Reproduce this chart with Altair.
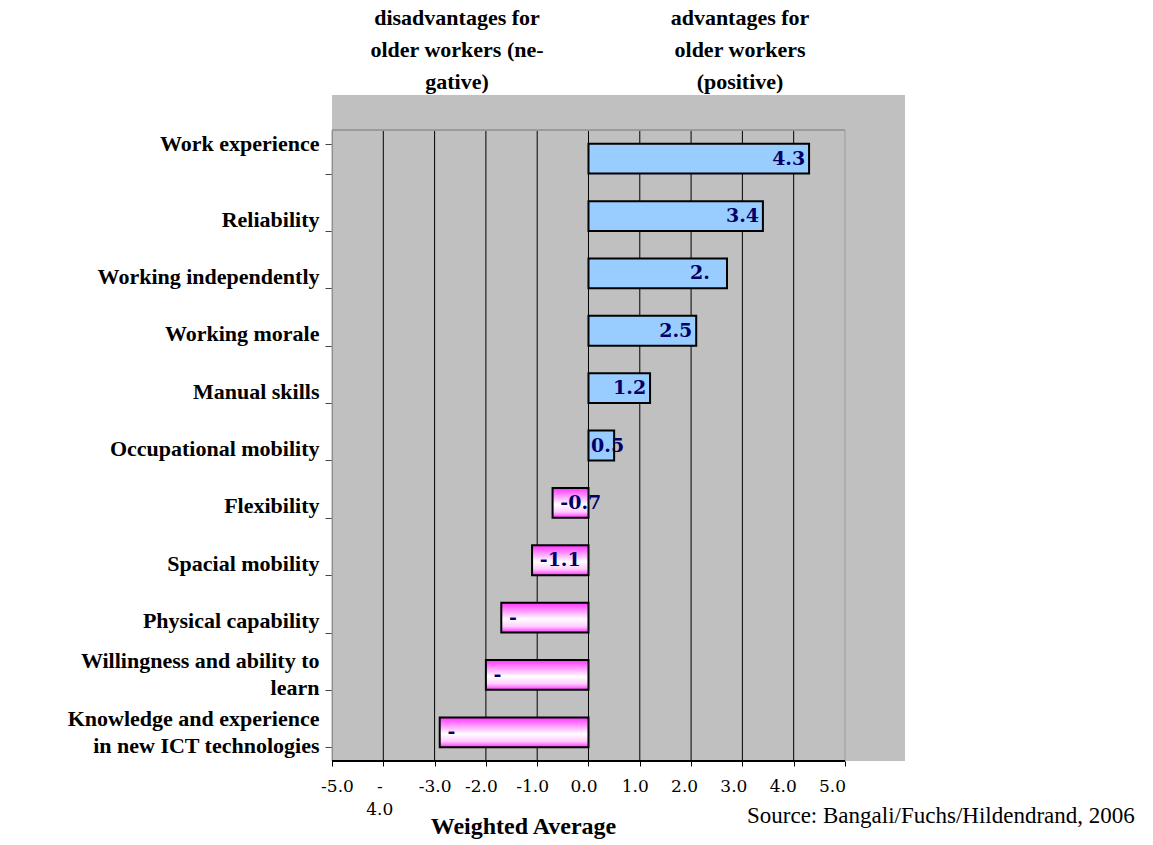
import altair as alt
import pandas as pd

categories = [
    "Work experience",
    "Reliability",
    "Working independently",
    "Working morale",
    "Manual skills",
    "Occupational mobility",
    "Flexibility",
    "Spacial  mobility",
    "Physical capability",
    "Willingness and ability to|learn",
    "Knowledge and experience|in new ICT technologies",
]
values = [4.3, 3.4, 2.7, 2.1, 1.2, 0.5, -0.7, -1.1, -1.7, -2.0, -2.9]
value_labels = ["4.3", "3.4", "2.", "2.5", "1.2", "0.5", "-0.7", "-1.1", "-", "-", "-"]
x_ticks = [-5, -4, -3, -2, -1, 0, 1, 2, 3, 4, 5]
header_left = "disadvantages for\nolder workers (ne-\ngative)"
header_right = "advantages for\nolder workers\n(positive)"
source_text = "Source: Bangali/Fuchs/Hildendrand, 2006"
x_title = "Weighted Average"

df = pd.DataFrame({"category": categories, "value": values, "label": value_labels})
ticks_df = pd.DataFrame({"t": x_ticks})

SERIF = "Liberation Serif"
xscale = alt.Scale(domain=[-5, 6.17], nice=False, zero=False)
yscale = alt.Scale(domain=categories, range=[35, 666], paddingInner=0.48, paddingOuter=0.24)

x_axis = alt.Axis(
    values=x_ticks,
    domain=False,
    grid=False,
    ticks=True,
    tickSize=5,
    tickColor="#000000",
    labelExpr="datum.value == -4 ? ['-', '4.0'] : (datum.value < 0 ? '-' : '') + format(abs(datum.value), '.1f')",
    labelOffset={"expr": "datum.value == -5 ? 5 : datum.value == -3 ? 0 : datum.value == -4 ? -4 : -5 - max(0, datum.value - 1) * 2"},
    labelFont="DejaVu Serif",
    labelFontSize=17,
    labelColor="#000000",
    labelBaseline="alphabetic",
    labelPadding=25,
    labelLineHeight=23,
    labelFlush=False,
    labelOverlap=False,
    labelBound=False,
    title=x_title,
    titleFont=SERIF,
    titleFontSize=24,
    titleFontWeight="bold",
    titleColor="#000000",
    titleX=191,
    titleY=72,
    titleAlign="center",
    titleBaseline="alphabetic",
)

y_axis = alt.Axis(
    title=None,
    labelExpr="split(datum.label, '|')",
    labelOffset={"expr": "indexof(datum.label, '|') >= 0 ? -14 : (datum.label == 'Work experience' ? -15 : 3)"},
    labelFont=SERIF,
    labelFontSize=22,
    labelFontWeight="bold",
    labelColor="#000000",
    labelLimit=0,
    labelPadding=6,
    labelLineHeight=27,
    tickBand="extent",
    tickSize=7,
    tickColor="#444444",
    domainColor="#808080",
    grid=False,
)

grid = alt.Chart(ticks_df).mark_rule(strokeWidth=1).encode(
    x=alt.X("t:Q", scale=xscale, axis=x_axis),
    y=alt.value(35),
    y2=alt.value(666),
    color=alt.condition("abs(datum.t) == 5", alt.value("#9a9a9a"), alt.value("#000000")),
)

top_border = alt.Chart(ticks_df).mark_rule(color="#9a9a9a", strokeWidth=1).encode(
    x=alt.datum(-5),
    x2=alt.datum(5),
    y=alt.value(35),
)

bottom_line = alt.Chart(ticks_df).mark_rule(color="#000000", strokeWidth=1).encode(
    x=alt.datum(-5),
    x2=alt.datum(5),
    y=alt.value(666),
)

pos_bars = alt.Chart(df).transform_filter("datum.value > 0").mark_bar(
    fill="#99CCFF", stroke="#000000", strokeWidth=2
).encode(
    x=alt.X("value:Q", scale=xscale, axis=x_axis),
    x2=alt.datum(0),
    y=alt.Y("category:N", scale=yscale, sort=categories, axis=y_axis),
)

neg_bars = alt.Chart(df).transform_filter("datum.value < 0").mark_bar(
    fill=alt.Gradient(
        gradient="linear",
        x1=0, x2=0, y1=0, y2=1,
        stops=[
            alt.GradientStop(color="#ff33ff", offset=0),
            alt.GradientStop(color="#ffffff", offset=0.55),
            alt.GradientStop(color="#ffccff", offset=0.8),
            alt.GradientStop(color="#ff33ff", offset=1),
        ],
    ),
    stroke="#000000",
    strokeWidth=2,
).encode(
    x=alt.X("value:Q", scale=xscale, axis=x_axis),
    x2=alt.datum(0),
    y=alt.Y("category:N", scale=yscale, sort=categories, axis=y_axis),
)

bar_text = alt.Chart(df).transform_calculate(
    lx="datum.value > 0 ? max(datum.value - 0.72, 0.05) : datum.value + 0.15"
).mark_text(
    align="left", baseline="middle", font="DejaVu Serif", fontWeight="bold",
    fontSize=19, color="#000066"
).encode(
    x=alt.X("lx:Q", scale=xscale, axis=x_axis),
    y=alt.Y("category:N", scale=yscale, sort=categories, axis=y_axis),
    text="label:N",
)

head_l = alt.Chart(pd.DataFrame({"h": [header_left]})).mark_text(
    lineBreak="\n", lineHeight=32, font=SERIF, fontWeight="bold", fontSize=22,
    align="center", baseline="middle", color="#000000"
).encode(text="h:N", x=alt.value(125), y=alt.value(-77))

head_r = alt.Chart(pd.DataFrame({"h": [header_right]})).mark_text(
    lineBreak="\n", lineHeight=32, font=SERIF, fontWeight="bold", fontSize=22,
    align="center", baseline="middle", color="#000000"
).encode(text="h:N", x=alt.value(408), y=alt.value(-77))

source = alt.Chart(pd.DataFrame({"s": [source_text]})).mark_text(
    font=SERIF, fontSize=23, align="left", baseline="alphabetic", color="#000000"
).encode(text="s:N", x=alt.value(415), y=alt.value(728))

chart = alt.layer(
    grid, top_border, bottom_line, pos_bars, neg_bars, bar_text, head_l, head_r, source
).properties(
    width=573,
    height=666,
    autosize=alt.AutoSizeParams(type="none"),
    padding={"left": 332, "top": 95, "right": 248, "bottom": 84},
    background="#ffffff",
).configure_view(
    fill="#C0C0C0", stroke=None
)

chart.save("out.html", embed_options={"renderer": "svg", "actions": False})
